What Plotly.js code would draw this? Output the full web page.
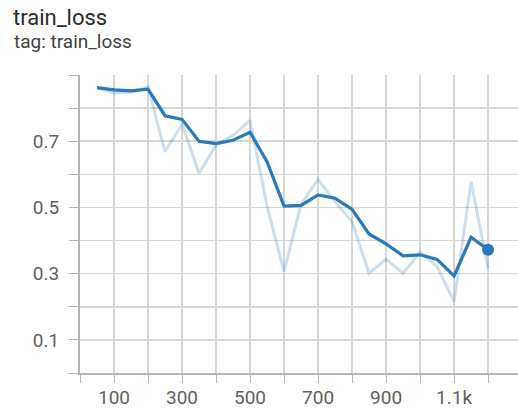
<!DOCTYPE html>
<html>
<head>
<meta charset="utf-8">
<script src="https://cdn.plot.ly/plotly-3.0.1.min.js"></script>
<style>
  html, body { margin: 0; padding: 0; background: #fff; }
  #chart { width: 518px; height: 408px; }
</style>
</head>
<body>
<div id="chart"></div>
<script>
// training steps
const steps = [50, 100, 150, 200, 250, 300, 350, 400, 450, 500, 550, 600,
               650, 700, 750, 800, 850, 900, 950, 1000, 1050, 1100, 1150, 1200];

// raw loss values per step
const rawLoss = [0.862, 0.846, 0.848, 0.864, 0.668, 0.752, 0.603, 0.688, 0.718, 0.763, 0.504, 0.306,
                 0.509, 0.585, 0.517, 0.457, 0.301, 0.344, 0.301, 0.365, 0.321, 0.216, 0.578, 0.316];

// smoothed loss values per step
const smoothLoss = [0.862, 0.855, 0.852, 0.857, 0.777, 0.766, 0.700, 0.693, 0.703, 0.727, 0.638, 0.504,
                    0.506, 0.538, 0.528, 0.494, 0.420, 0.390, 0.354, 0.357, 0.343, 0.293, 0.410, 0.372];

// axis tick labels
const xTickVals = [100, 300, 500, 700, 900, 1100];
const xTickText = ['100', '300', '500', '700', '900', '1.1k'];
const yTickVals = [0.1, 0.3, 0.5, 0.7];
const yTickText = ['0.1', '0.3', '0.5', '0.7'];

const blue = '#2a79b8';
const gridColor = '#d6d6d6';
const axisColor = '#b5b5b5';
const font = 'Roboto, "Noto Sans", sans-serif';

const lastIdx = steps.length - 1;

const traces = [
  {
    x: steps, y: rawLoss, type: 'scatter', mode: 'lines',
    line: { color: 'rgba(42,121,184,0.24)', width: 3 },
    hoverinfo: 'skip'
  },
  {
    x: steps, y: smoothLoss, type: 'scatter', mode: 'lines',
    line: { color: blue, width: 3.2 },
    hoverinfo: 'skip'
  },
  {
    x: [steps[lastIdx]], y: [smoothLoss[lastIdx]], type: 'scatter', mode: 'markers',
    marker: { color: blue, size: 12 },
    hoverinfo: 'skip'
  }
];

const layout = {
  width: 518, height: 408,
  margin: { l: 80, r: 0, t: 75, b: 35 },
  paper_bgcolor: '#fff', plot_bgcolor: '#fff',
  showlegend: false,
  font: { family: font, color: '#616161' },
  xaxis: {
    range: [0, 1288],
    tickmode: 'array', tickvals: xTickVals, ticktext: xTickText,
    ticks: 'outside', ticklen: 8, tickcolor: axisColor, tickwidth: 1,
    tickfont: { family: font, size: 19, color: '#616161' },
    ticklabelstandoff: -2,
    showgrid: true, gridcolor: gridColor, gridwidth: 1.5,
    showline: true, linecolor: axisColor, linewidth: 2,
    zeroline: false,
    minor: { tick0: 0, dtick: 100, ticks: 'outside', ticklen: 8, tickcolor: axisColor,
             showgrid: true, gridcolor: gridColor, gridwidth: 1.5 }
  },
  yaxis: {
    range: [0, 0.9],
    tickmode: 'array', tickvals: yTickVals, ticktext: yTickText,
    ticks: 'outside', ticklen: 9, tickcolor: axisColor, tickwidth: 1,
    tickfont: { family: font, size: 19, color: '#616161' },
    ticklabelstandoff: 6,
    showgrid: true, gridcolor: gridColor, gridwidth: 1.5,
    showline: true, linecolor: axisColor, linewidth: 2,
    zeroline: false,
    minor: { tick0: 0, dtick: 0.1, ticks: 'outside', ticklen: 9, tickcolor: axisColor,
             showgrid: true, gridcolor: gridColor, gridwidth: 1.5 }
  },
  annotations: [
    {
      text: 'train_loss', xref: 'paper', yref: 'paper',
      x: -69 / 438, y: 1 + (75 - 32) / 298, xanchor: 'left', yanchor: 'bottom',
      showarrow: false, font: { family: font, size: 22, color: '#2b2b2b' }
    },
    {
      text: 'tag: train_loss', xref: 'paper', yref: 'paper',
      x: -68 / 438, y: 1 + (75 - 55) / 298, xanchor: 'left', yanchor: 'bottom',
      showarrow: false, font: { family: font, size: 19, color: '#424242' }
    }
  ]
};

Plotly.newPlot('chart', traces, layout, { staticPlot: true, displayModeBar: false });
</script>
</body>
</html>
